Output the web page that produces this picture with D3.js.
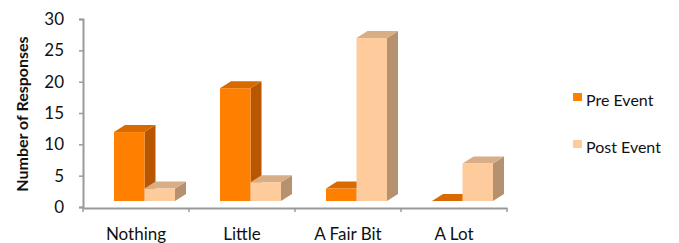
<!DOCTYPE html>
<html>
<head>
<meta charset="utf-8">
<script src="https://cdn.jsdelivr.net/npm/d3@7"></script>
<style>
  body { margin: 0; background: #fff; }
  text { font-family: Lato, "Open Sans", sans-serif; fill: #111; }
</style>
</head>
<body>
<svg></svg>
<script>
const width = 679;
const height = 243;

// data
const categories = ["Nothing", "Little", "A Fair Bit", "A Lot"];
const seriesNames = ["Pre Event", "Post Event"];
const preEvent = [11, 18, 2, 0];
const postEvent = [2, 3, 26, 6];
const yTicks = [0, 5, 10, 15, 20, 25, 30];

const frontColors = ["#ff7f00", "#fdcb9c"];
const topColors = ["#d96a00", "#d8ae87"];
const sideColors = ["#b95600", "#b5916f"];

const svg = d3.select("svg")
  .attr("width", width)
  .attr("height", height);

const x = d3.scaleBand().domain(categories).range([83, 507]);
const inner = d3.scaleBand().domain(seriesNames).range([31, 92]);
const y = d3.scaleLinear().domain([0, 30]).range([207, 19]);

// 3d look
const depthX = 11, depthY = -7, floorLift = 6;

// axes
const yAxis = svg.append("g")
  .attr("transform", "translate(83,0)")
  .call(d3.axisLeft(y).tickValues(yTicks).tickSize(4).tickPadding(15));
yAxis.select(".domain").attr("stroke", "#9a9a9a").attr("stroke-width", 2);
yAxis.selectAll(".tick line").attr("stroke", "#9a9a9a").attr("stroke-width", 1.5);
yAxis.selectAll(".tick text").attr("font-size", "17px").attr("fill", "#111");

const xAxis = svg.append("g")
  .attr("transform", "translate(0,208)")
  .call(d3.axisBottom(x).tickSize(0).tickPadding(20));
xAxis.select(".domain").attr("stroke", "#9a9a9a").attr("stroke-width", 2);
xAxis.selectAll(".tick text").attr("font-size", "17px").attr("fill", "#111");

// tick marks between categories
svg.append("g").selectAll("line")
  .data(categories.concat(["end"]))
  .enter()
  .append("line")
  .attr("x1", (d, i) => i < categories.length ? x(d) : x.range()[1])
  .attr("x2", (d, i) => i < categories.length ? x(d) : x.range()[1])
  .attr("y1", 208)
  .attr("y2", 212)
  .attr("stroke", "#9a9a9a")
  .attr("stroke-width", 1.5);

svg.append("text")
  .attr("transform", "translate(28,114) rotate(-90)")
  .attr("text-anchor", "middle")
  .attr("font-size", "16px")
  .attr("font-weight", "bold")
  .text("Number of Responses");

// bars
const bars = [];
categories.forEach((c, i) => {
  bars.push({ cat: c, s: 0, value: preEvent[i] });
  bars.push({ cat: c, s: 1, value: postEvent[i] });
});

const barG = svg.append("g");
bars.forEach(d => {
  const x0 = x(d.cat) + inner(seriesNames[d.s]);
  const x1 = x0 + inner.bandwidth();
  const yb = y(0) - floorLift;
  const yt = y(d.value) - floorLift;
  const g = barG.append("g");
  // side face
  g.append("path")
    .attr("d", `M${x1},${yb} L${x1 + depthX},${yb + depthY} L${x1 + depthX},${yt + depthY} L${x1},${yt} Z`)
    .attr("fill", sideColors[d.s]);
  // top face
  g.append("path")
    .attr("d", `M${x0},${yt} L${x1},${yt} L${x1 + depthX},${yt + depthY} L${x0 + depthX},${yt + depthY} Z`)
    .attr("fill", topColors[d.s]);
  // front face
  g.append("rect")
    .attr("x", x0)
    .attr("y", yt)
    .attr("width", x1 - x0)
    .attr("height", yb - yt)
    .attr("fill", frontColors[d.s]);
});

// legend
const legend = svg.append("g").selectAll("g")
  .data(seriesNames)
  .enter()
  .append("g")
  .attr("transform", (d, i) => `translate(573,${93 + i * 47})`);

legend.append("rect")
  .attr("width", 9)
  .attr("height", 8)
  .attr("fill", (d, i) => frontColors[i]);

legend.append("text")
  .attr("x", 13)
  .attr("y", 13)
  .attr("font-size", "16px")
  .text(d => d);
</script>
</body>
</html>
